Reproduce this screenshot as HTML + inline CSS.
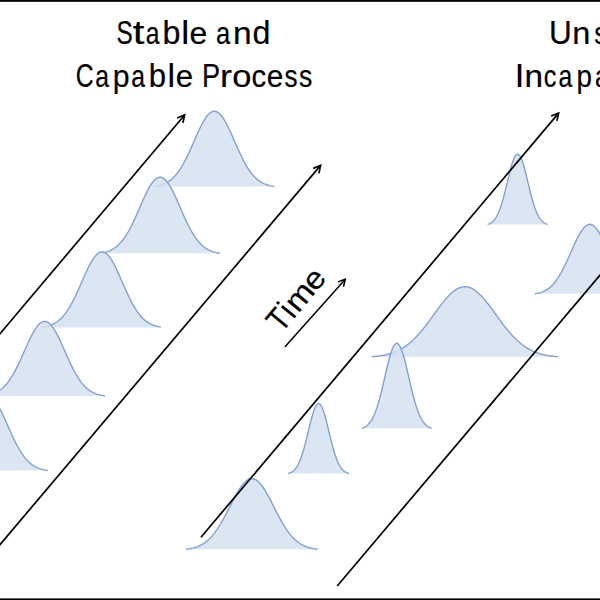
<!DOCTYPE html>
<html><head><meta charset="utf-8"><style>
html,body{margin:0;padding:0;background:#fff;width:600px;height:600px;overflow:hidden}
svg{display:block}
text{font-family:"Liberation Sans",sans-serif;font-size:33px;fill:#000;stroke:#000;stroke-width:0.2px;vector-effect:non-scaling-stroke}
</style></head><body>
<svg width="600" height="600" viewBox="0 0 600 600">
<rect x="0" y="0" width="600" height="600" fill="#fff"/>
<polygon points="154.30,186.40 155.80,186.18 157.30,185.90 158.80,185.58 160.30,185.19 161.80,184.73 163.30,184.18 164.80,183.54 166.30,182.80 167.80,181.94 169.30,180.96 170.80,179.83 172.30,178.56 173.80,177.12 175.30,175.52 176.80,173.74 178.30,171.77 179.80,169.62 181.30,167.28 182.80,164.76 184.30,162.06 185.80,159.19 187.30,156.17 188.80,153.01 190.30,149.74 191.80,146.39 193.30,142.98 194.80,139.55 196.30,136.14 197.80,132.79 199.30,129.54 200.80,126.44 202.30,123.51 203.80,120.82 205.30,118.39 206.80,116.27 208.30,114.49 209.80,113.07 211.30,112.03 212.80,111.41 214.30,111.20 215.80,111.41 217.30,112.03 218.80,113.07 220.30,114.49 221.80,116.27 223.30,118.39 224.80,120.82 226.30,123.51 227.80,126.44 229.30,129.54 230.80,132.79 232.30,136.14 233.80,139.55 235.30,142.98 236.80,146.39 238.30,149.74 239.80,153.01 241.30,156.17 242.80,159.19 244.30,162.06 245.80,164.76 247.30,167.28 248.80,169.62 250.30,171.77 251.80,173.74 253.30,175.52 254.80,177.12 256.30,178.56 257.80,179.83 259.30,180.96 260.80,181.94 262.30,182.80 263.80,183.54 265.30,184.18 266.80,184.73 268.30,185.19 269.80,185.58 271.30,185.90 272.80,186.18 274.30,186.40 274.30,186.40 154.30,186.40" fill="#D6E0F0" fill-opacity="0.85"/><polyline points="154.30,186.40 155.80,186.18 157.30,185.90 158.80,185.58 160.30,185.19 161.80,184.73 163.30,184.18 164.80,183.54 166.30,182.80 167.80,181.94 169.30,180.96 170.80,179.83 172.30,178.56 173.80,177.12 175.30,175.52 176.80,173.74 178.30,171.77 179.80,169.62 181.30,167.28 182.80,164.76 184.30,162.06 185.80,159.19 187.30,156.17 188.80,153.01 190.30,149.74 191.80,146.39 193.30,142.98 194.80,139.55 196.30,136.14 197.80,132.79 199.30,129.54 200.80,126.44 202.30,123.51 203.80,120.82 205.30,118.39 206.80,116.27 208.30,114.49 209.80,113.07 211.30,112.03 212.80,111.41 214.30,111.20 215.80,111.41 217.30,112.03 218.80,113.07 220.30,114.49 221.80,116.27 223.30,118.39 224.80,120.82 226.30,123.51 227.80,126.44 229.30,129.54 230.80,132.79 232.30,136.14 233.80,139.55 235.30,142.98 236.80,146.39 238.30,149.74 239.80,153.01 241.30,156.17 242.80,159.19 244.30,162.06 245.80,164.76 247.30,167.28 248.80,169.62 250.30,171.77 251.80,173.74 253.30,175.52 254.80,177.12 256.30,178.56 257.80,179.83 259.30,180.96 260.80,181.94 262.30,182.80 263.80,183.54 265.30,184.18 266.80,184.73 268.30,185.19 269.80,185.58 271.30,185.90 272.80,186.18 274.30,186.40" fill="none" stroke="#84A1D3" stroke-width="1.4"/><polygon points="102.00,252.89 103.47,252.60 104.95,252.26 106.42,251.85 107.90,251.37 109.38,250.81 110.85,250.15 112.33,249.39 113.80,248.51 115.28,247.50 116.75,246.36 118.22,245.07 119.70,243.62 121.17,242.00 122.65,240.21 124.12,238.24 125.60,236.09 127.08,233.75 128.55,231.24 130.03,228.55 131.50,225.70 132.97,222.70 134.45,219.56 135.93,216.32 137.40,212.99 138.88,209.61 140.35,206.20 141.82,202.81 143.30,199.47 144.78,196.22 146.25,193.11 147.72,190.17 149.20,187.45 150.68,184.98 152.15,182.80 153.62,180.94 155.10,179.43 156.57,178.30 158.05,177.56 159.53,177.22 161.00,177.29 162.47,177.78 163.95,178.66 165.43,179.93 166.90,181.56 168.38,183.54 169.85,185.82 171.32,188.39 172.80,191.19 174.28,194.20 175.75,197.37 177.22,200.65 178.70,204.01 180.18,207.41 181.65,210.82 183.12,214.18 184.60,217.48 186.07,220.69 187.55,223.78 189.03,226.73 190.50,229.53 191.97,232.15 193.45,234.61 194.93,236.88 196.40,238.96 197.88,240.87 199.35,242.60 200.82,244.15 202.30,245.55 203.78,246.78 205.25,247.88 206.72,248.83 208.20,249.67 209.68,250.39 211.15,251.02 212.62,251.55 214.10,252.00 215.57,252.39 217.05,252.71 218.53,252.98 220.00,253.20 220.00,253.20 102.00,253.20" fill="#D6E0F0" fill-opacity="0.85"/><polyline points="102.00,252.89 103.47,252.60 104.95,252.26 106.42,251.85 107.90,251.37 109.38,250.81 110.85,250.15 112.33,249.39 113.80,248.51 115.28,247.50 116.75,246.36 118.22,245.07 119.70,243.62 121.17,242.00 122.65,240.21 124.12,238.24 125.60,236.09 127.08,233.75 128.55,231.24 130.03,228.55 131.50,225.70 132.97,222.70 134.45,219.56 135.93,216.32 137.40,212.99 138.88,209.61 140.35,206.20 141.82,202.81 143.30,199.47 144.78,196.22 146.25,193.11 147.72,190.17 149.20,187.45 150.68,184.98 152.15,182.80 153.62,180.94 155.10,179.43 156.57,178.30 158.05,177.56 159.53,177.22 161.00,177.29 162.47,177.78 163.95,178.66 165.43,179.93 166.90,181.56 168.38,183.54 169.85,185.82 171.32,188.39 172.80,191.19 174.28,194.20 175.75,197.37 177.22,200.65 178.70,204.01 180.18,207.41 181.65,210.82 183.12,214.18 184.60,217.48 186.07,220.69 187.55,223.78 189.03,226.73 190.50,229.53 191.97,232.15 193.45,234.61 194.93,236.88 196.40,238.96 197.88,240.87 199.35,242.60 200.82,244.15 202.30,245.55 203.78,246.78 205.25,247.88 206.72,248.83 208.20,249.67 209.68,250.39 211.15,251.02 212.62,251.55 214.10,252.00 215.57,252.39 217.05,252.71 218.53,252.98 220.00,253.20" fill="none" stroke="#84A1D3" stroke-width="1.4"/><polygon points="41.00,327.40 42.50,327.20 44.00,326.96 45.50,326.67 47.00,326.32 48.50,325.91 50.00,325.42 51.50,324.85 53.00,324.17 54.50,323.39 56.00,322.49 57.50,321.46 59.00,320.28 60.50,318.95 62.00,317.46 63.50,315.79 65.00,313.94 66.50,311.91 68.00,309.69 69.50,307.29 71.00,304.70 72.50,301.93 74.00,299.00 75.50,295.93 77.00,292.72 78.50,289.42 80.00,286.03 81.50,282.61 83.00,279.18 84.50,275.77 86.00,272.44 87.50,269.23 89.00,266.17 90.50,263.31 92.00,260.70 93.50,258.36 95.00,256.35 96.50,254.68 98.00,253.38 99.50,252.48 101.00,251.99 102.50,251.92 104.00,252.27 105.50,253.04 107.00,254.20 108.50,255.75 110.00,257.66 111.50,259.89 113.00,262.41 114.50,265.20 116.00,268.19 117.50,271.36 119.00,274.65 120.50,278.04 122.00,281.46 123.50,284.90 125.00,288.30 126.50,291.63 128.00,294.87 129.50,297.99 131.00,300.97 132.50,303.79 134.00,306.44 135.50,308.91 137.00,311.19 138.50,313.29 140.00,315.20 141.50,316.92 143.00,318.47 144.50,319.86 146.00,321.08 147.50,322.16 149.00,323.11 150.50,323.93 152.00,324.63 153.50,325.24 155.00,325.76 156.50,326.19 158.00,326.56 159.50,326.87 161.00,327.13 161.00,327.40 41.00,327.40" fill="#D6E0F0" fill-opacity="0.85"/><polyline points="41.00,327.40 42.50,327.20 44.00,326.96 45.50,326.67 47.00,326.32 48.50,325.91 50.00,325.42 51.50,324.85 53.00,324.17 54.50,323.39 56.00,322.49 57.50,321.46 59.00,320.28 60.50,318.95 62.00,317.46 63.50,315.79 65.00,313.94 66.50,311.91 68.00,309.69 69.50,307.29 71.00,304.70 72.50,301.93 74.00,299.00 75.50,295.93 77.00,292.72 78.50,289.42 80.00,286.03 81.50,282.61 83.00,279.18 84.50,275.77 86.00,272.44 87.50,269.23 89.00,266.17 90.50,263.31 92.00,260.70 93.50,258.36 95.00,256.35 96.50,254.68 98.00,253.38 99.50,252.48 101.00,251.99 102.50,251.92 104.00,252.27 105.50,253.04 107.00,254.20 108.50,255.75 110.00,257.66 111.50,259.89 113.00,262.41 114.50,265.20 116.00,268.19 117.50,271.36 119.00,274.65 120.50,278.04 122.00,281.46 123.50,284.90 125.00,288.30 126.50,291.63 128.00,294.87 129.50,297.99 131.00,300.97 132.50,303.79 134.00,306.44 135.50,308.91 137.00,311.19 138.50,313.29 140.00,315.20 141.50,316.92 143.00,318.47 144.50,319.86 146.00,321.08 147.50,322.16 149.00,323.11 150.50,323.93 152.00,324.63 153.50,325.24 155.00,325.76 156.50,326.19 158.00,326.56 159.50,326.87 161.00,327.13" fill="none" stroke="#84A1D3" stroke-width="1.4"/><polygon points="-16.40,396.00 -14.88,395.80 -13.36,395.56 -11.84,395.27 -10.32,394.92 -8.81,394.50 -7.29,394.01 -5.77,393.42 -4.25,392.74 -2.73,391.95 -1.21,391.03 0.31,389.98 1.83,388.78 3.34,387.42 4.86,385.90 6.38,384.20 7.90,382.32 9.42,380.25 10.94,377.98 12.46,375.53 13.98,372.90 15.49,370.09 17.01,367.12 18.53,364.01 20.05,360.77 21.57,357.43 23.09,354.03 24.61,350.60 26.12,347.17 27.64,343.79 29.16,340.49 30.68,337.33 32.20,334.35 33.72,331.58 35.24,329.08 36.76,326.87 38.27,325.01 39.79,323.50 41.31,322.39 42.83,321.69 44.35,321.41 45.87,321.55 47.39,322.11 48.91,323.09 50.43,324.47 51.94,326.22 53.46,328.32 54.98,330.73 56.50,333.41 58.02,336.33 59.54,339.43 61.06,342.69 62.57,346.05 64.09,349.47 65.61,352.90 67.13,356.32 68.65,359.68 70.17,362.95 71.69,366.11 73.21,369.13 74.72,371.99 76.24,374.69 77.76,377.20 79.28,379.52 80.80,381.66 82.32,383.60 83.84,385.36 85.36,386.94 86.88,388.35 88.39,389.60 89.91,390.70 91.43,391.66 92.95,392.49 94.47,393.21 95.99,393.82 97.51,394.35 99.03,394.79 100.54,395.16 102.06,395.47 103.58,395.73 105.10,395.94 105.10,396.00 -16.40,396.00" fill="#D6E0F0" fill-opacity="0.85"/><polyline points="-16.40,396.00 -14.88,395.80 -13.36,395.56 -11.84,395.27 -10.32,394.92 -8.81,394.50 -7.29,394.01 -5.77,393.42 -4.25,392.74 -2.73,391.95 -1.21,391.03 0.31,389.98 1.83,388.78 3.34,387.42 4.86,385.90 6.38,384.20 7.90,382.32 9.42,380.25 10.94,377.98 12.46,375.53 13.98,372.90 15.49,370.09 17.01,367.12 18.53,364.01 20.05,360.77 21.57,357.43 23.09,354.03 24.61,350.60 26.12,347.17 27.64,343.79 29.16,340.49 30.68,337.33 32.20,334.35 33.72,331.58 35.24,329.08 36.76,326.87 38.27,325.01 39.79,323.50 41.31,322.39 42.83,321.69 44.35,321.41 45.87,321.55 47.39,322.11 48.91,323.09 50.43,324.47 51.94,326.22 53.46,328.32 54.98,330.73 56.50,333.41 58.02,336.33 59.54,339.43 61.06,342.69 62.57,346.05 64.09,349.47 65.61,352.90 67.13,356.32 68.65,359.68 70.17,362.95 71.69,366.11 73.21,369.13 74.72,371.99 76.24,374.69 77.76,377.20 79.28,379.52 80.80,381.66 82.32,383.60 83.84,385.36 85.36,386.94 86.88,388.35 88.39,389.60 89.91,390.70 91.43,391.66 92.95,392.49 94.47,393.21 95.99,393.82 97.51,394.35 99.03,394.79 100.54,395.16 102.06,395.47 103.58,395.73 105.10,395.94" fill="none" stroke="#84A1D3" stroke-width="1.4"/><polygon points="-73.50,470.50 -71.98,470.30 -70.46,470.06 -68.94,469.77 -67.42,469.42 -65.91,469.00 -64.39,468.51 -62.87,467.92 -61.35,467.24 -59.83,466.45 -58.31,465.53 -56.79,464.48 -55.27,463.28 -53.76,461.92 -52.24,460.40 -50.72,458.70 -49.20,456.82 -47.68,454.75 -46.16,452.48 -44.64,450.03 -43.12,447.40 -41.61,444.59 -40.09,441.62 -38.57,438.51 -37.05,435.27 -35.53,431.93 -34.01,428.53 -32.49,425.10 -30.98,421.67 -29.46,418.29 -27.94,414.99 -26.42,411.83 -24.90,408.85 -23.38,406.08 -21.86,403.58 -20.34,401.37 -18.83,399.51 -17.31,398.00 -15.79,396.89 -14.27,396.19 -12.75,395.91 -11.23,396.05 -9.71,396.61 -8.19,397.59 -6.67,398.97 -5.16,400.72 -3.64,402.82 -2.12,405.23 -0.60,407.91 0.92,410.83 2.44,413.93 3.96,417.19 5.47,420.55 6.99,423.97 8.51,427.40 10.03,430.82 11.55,434.18 13.07,437.45 14.59,440.61 16.11,443.63 17.62,446.49 19.14,449.19 20.66,451.70 22.18,454.02 23.70,456.16 25.22,458.10 26.74,459.86 28.26,461.44 29.78,462.85 31.29,464.10 32.81,465.20 34.33,466.16 35.85,466.99 37.37,467.71 38.89,468.32 40.41,468.85 41.92,469.29 43.44,469.66 44.96,469.97 46.48,470.23 48.00,470.44 48.00,470.50 -73.50,470.50" fill="#D6E0F0" fill-opacity="0.85"/><polyline points="-73.50,470.50 -71.98,470.30 -70.46,470.06 -68.94,469.77 -67.42,469.42 -65.91,469.00 -64.39,468.51 -62.87,467.92 -61.35,467.24 -59.83,466.45 -58.31,465.53 -56.79,464.48 -55.27,463.28 -53.76,461.92 -52.24,460.40 -50.72,458.70 -49.20,456.82 -47.68,454.75 -46.16,452.48 -44.64,450.03 -43.12,447.40 -41.61,444.59 -40.09,441.62 -38.57,438.51 -37.05,435.27 -35.53,431.93 -34.01,428.53 -32.49,425.10 -30.98,421.67 -29.46,418.29 -27.94,414.99 -26.42,411.83 -24.90,408.85 -23.38,406.08 -21.86,403.58 -20.34,401.37 -18.83,399.51 -17.31,398.00 -15.79,396.89 -14.27,396.19 -12.75,395.91 -11.23,396.05 -9.71,396.61 -8.19,397.59 -6.67,398.97 -5.16,400.72 -3.64,402.82 -2.12,405.23 -0.60,407.91 0.92,410.83 2.44,413.93 3.96,417.19 5.47,420.55 6.99,423.97 8.51,427.40 10.03,430.82 11.55,434.18 13.07,437.45 14.59,440.61 16.11,443.63 17.62,446.49 19.14,449.19 20.66,451.70 22.18,454.02 23.70,456.16 25.22,458.10 26.74,459.86 28.26,461.44 29.78,462.85 31.29,464.10 32.81,465.20 34.33,466.16 35.85,466.99 37.37,467.71 38.89,468.32 40.41,468.85 41.92,469.29 43.44,469.66 44.96,469.97 46.48,470.23 48.00,470.44" fill="none" stroke="#84A1D3" stroke-width="1.4"/><polygon points="487.60,224.40 488.35,224.16 489.10,223.88 489.85,223.53 490.60,223.13 491.35,222.66 492.10,222.10 492.85,221.45 493.60,220.71 494.35,219.85 495.10,218.87 495.85,217.76 496.60,216.51 497.35,215.11 498.10,213.56 498.85,211.84 499.60,209.96 500.35,207.90 501.10,205.68 501.85,203.30 502.60,200.76 503.35,198.07 504.10,195.25 504.85,192.32 505.60,189.29 506.35,186.20 507.10,183.06 507.85,179.92 508.60,176.80 509.35,173.75 510.10,170.79 510.85,167.96 511.60,165.31 512.35,162.88 513.10,160.68 513.85,158.77 514.60,157.16 515.35,155.88 516.10,154.95 516.85,154.39 517.60,154.20 518.35,154.39 519.10,154.95 519.85,155.88 520.60,157.16 521.35,158.77 522.10,160.68 522.85,162.88 523.60,165.31 524.35,167.96 525.10,170.79 525.85,173.75 526.60,176.80 527.35,179.92 528.10,183.06 528.85,186.20 529.60,189.29 530.35,192.32 531.10,195.25 531.85,198.07 532.60,200.76 533.35,203.30 534.10,205.68 534.85,207.90 535.60,209.96 536.35,211.84 537.10,213.56 537.85,215.11 538.60,216.51 539.35,217.76 540.10,218.87 540.85,219.85 541.60,220.71 542.35,221.45 543.10,222.10 543.85,222.66 544.60,223.13 545.35,223.53 546.10,223.88 546.85,224.16 547.60,224.40 547.60,224.40 487.60,224.40" fill="#D6E0F0" fill-opacity="0.85"/><polyline points="487.60,224.40 488.35,224.16 489.10,223.88 489.85,223.53 490.60,223.13 491.35,222.66 492.10,222.10 492.85,221.45 493.60,220.71 494.35,219.85 495.10,218.87 495.85,217.76 496.60,216.51 497.35,215.11 498.10,213.56 498.85,211.84 499.60,209.96 500.35,207.90 501.10,205.68 501.85,203.30 502.60,200.76 503.35,198.07 504.10,195.25 504.85,192.32 505.60,189.29 506.35,186.20 507.10,183.06 507.85,179.92 508.60,176.80 509.35,173.75 510.10,170.79 510.85,167.96 511.60,165.31 512.35,162.88 513.10,160.68 513.85,158.77 514.60,157.16 515.35,155.88 516.10,154.95 516.85,154.39 517.60,154.20 518.35,154.39 519.10,154.95 519.85,155.88 520.60,157.16 521.35,158.77 522.10,160.68 522.85,162.88 523.60,165.31 524.35,167.96 525.10,170.79 525.85,173.75 526.60,176.80 527.35,179.92 528.10,183.06 528.85,186.20 529.60,189.29 530.35,192.32 531.10,195.25 531.85,198.07 532.60,200.76 533.35,203.30 534.10,205.68 534.85,207.90 535.60,209.96 536.35,211.84 537.10,213.56 537.85,215.11 538.60,216.51 539.35,217.76 540.10,218.87 540.85,219.85 541.60,220.71 542.35,221.45 543.10,222.10 543.85,222.66 544.60,223.13 545.35,223.53 546.10,223.88 546.85,224.16 547.60,224.40" fill="none" stroke="#84A1D3" stroke-width="1.4"/><polygon points="534.80,293.80 536.17,293.57 537.55,293.29 538.92,292.97 540.30,292.58 541.67,292.11 543.05,291.58 544.42,290.95 545.80,290.22 547.17,289.38 548.55,288.43 549.92,287.34 551.30,286.12 552.67,284.75 554.05,283.22 555.42,281.53 556.80,279.68 558.17,277.65 559.55,275.46 560.92,273.11 562.30,270.60 563.67,267.94 565.05,265.15 566.42,262.24 567.80,259.24 569.17,256.17 570.55,253.05 571.92,249.93 573.30,246.83 574.67,243.79 576.05,240.84 577.42,238.03 578.80,235.39 580.17,232.96 581.55,230.77 582.92,228.86 584.30,227.25 585.67,225.98 587.05,225.05 588.42,224.49 589.80,224.30 591.17,224.49 592.55,225.05 593.92,225.98 595.30,227.25 596.67,228.86 598.05,230.77 599.42,232.96 600.80,235.39 602.17,238.03 603.55,240.84 604.92,243.79 606.30,246.83 607.67,249.93 609.05,253.05 610.42,256.17 611.80,259.24 613.17,262.24 614.55,265.15 615.92,267.94 617.30,270.60 618.67,273.11 620.05,275.46 621.42,277.65 622.80,279.68 624.17,281.53 625.55,283.22 626.92,284.75 628.30,286.12 629.67,287.34 631.05,288.43 632.42,289.38 633.80,290.22 635.17,290.95 636.55,291.58 637.92,292.11 639.30,292.58 640.67,292.97 642.05,293.29 643.42,293.57 644.80,293.80 644.80,293.80 534.80,293.80" fill="#D6E0F0" fill-opacity="0.85"/><polyline points="534.80,293.80 536.17,293.57 537.55,293.29 538.92,292.97 540.30,292.58 541.67,292.11 543.05,291.58 544.42,290.95 545.80,290.22 547.17,289.38 548.55,288.43 549.92,287.34 551.30,286.12 552.67,284.75 554.05,283.22 555.42,281.53 556.80,279.68 558.17,277.65 559.55,275.46 560.92,273.11 562.30,270.60 563.67,267.94 565.05,265.15 566.42,262.24 567.80,259.24 569.17,256.17 570.55,253.05 571.92,249.93 573.30,246.83 574.67,243.79 576.05,240.84 577.42,238.03 578.80,235.39 580.17,232.96 581.55,230.77 582.92,228.86 584.30,227.25 585.67,225.98 587.05,225.05 588.42,224.49 589.80,224.30 591.17,224.49 592.55,225.05 593.92,225.98 595.30,227.25 596.67,228.86 598.05,230.77 599.42,232.96 600.80,235.39 602.17,238.03 603.55,240.84 604.92,243.79 606.30,246.83 607.67,249.93 609.05,253.05 610.42,256.17 611.80,259.24 613.17,262.24 614.55,265.15 615.92,267.94 617.30,270.60 618.67,273.11 620.05,275.46 621.42,277.65 622.80,279.68 624.17,281.53 625.55,283.22 626.92,284.75 628.30,286.12 629.67,287.34 631.05,288.43 632.42,289.38 633.80,290.22 635.17,290.95 636.55,291.58 637.92,292.11 639.30,292.58 640.67,292.97 642.05,293.29 643.42,293.57 644.80,293.80" fill="none" stroke="#84A1D3" stroke-width="1.4"/><polygon points="371.90,356.70 374.22,356.50 376.55,356.27 378.88,355.98 381.20,355.64 383.52,355.23 385.85,354.75 388.17,354.18 390.50,353.51 392.82,352.74 395.15,351.85 397.47,350.84 399.80,349.68 402.12,348.38 404.45,346.91 406.77,345.28 409.10,343.48 411.42,341.50 413.75,339.34 416.07,337.01 418.40,334.51 420.72,331.84 423.05,329.03 425.38,326.08 427.70,323.03 430.02,319.89 432.35,316.70 434.67,313.48 437.00,310.27 439.32,307.12 441.65,304.05 443.97,301.12 446.30,298.36 448.62,295.81 450.95,293.52 453.27,291.51 455.60,289.81 457.92,288.47 460.25,287.49 462.57,286.90 464.90,286.70 467.22,286.90 469.55,287.49 471.88,288.47 474.20,289.81 476.52,291.51 478.85,293.52 481.17,295.81 483.50,298.36 485.82,301.12 488.15,304.05 490.47,307.12 492.80,310.27 495.12,313.48 497.45,316.70 499.77,319.89 502.10,323.03 504.42,326.08 506.75,329.03 509.07,331.84 511.40,334.51 513.72,337.01 516.05,339.34 518.38,341.50 520.70,343.48 523.02,345.28 525.35,346.91 527.67,348.38 530.00,349.68 532.33,350.84 534.65,351.85 536.97,352.74 539.30,353.51 541.62,354.18 543.95,354.75 546.27,355.23 548.60,355.64 550.92,355.98 553.25,356.27 555.58,356.50 557.90,356.70 557.90,356.70 371.90,356.70" fill="#D6E0F0" fill-opacity="0.85"/><polyline points="371.90,356.70 374.22,356.50 376.55,356.27 378.88,355.98 381.20,355.64 383.52,355.23 385.85,354.75 388.17,354.18 390.50,353.51 392.82,352.74 395.15,351.85 397.47,350.84 399.80,349.68 402.12,348.38 404.45,346.91 406.77,345.28 409.10,343.48 411.42,341.50 413.75,339.34 416.07,337.01 418.40,334.51 420.72,331.84 423.05,329.03 425.38,326.08 427.70,323.03 430.02,319.89 432.35,316.70 434.67,313.48 437.00,310.27 439.32,307.12 441.65,304.05 443.97,301.12 446.30,298.36 448.62,295.81 450.95,293.52 453.27,291.51 455.60,289.81 457.92,288.47 460.25,287.49 462.57,286.90 464.90,286.70 467.22,286.90 469.55,287.49 471.88,288.47 474.20,289.81 476.52,291.51 478.85,293.52 481.17,295.81 483.50,298.36 485.82,301.12 488.15,304.05 490.47,307.12 492.80,310.27 495.12,313.48 497.45,316.70 499.77,319.89 502.10,323.03 504.42,326.08 506.75,329.03 509.07,331.84 511.40,334.51 513.72,337.01 516.05,339.34 518.38,341.50 520.70,343.48 523.02,345.28 525.35,346.91 527.67,348.38 530.00,349.68 532.33,350.84 534.65,351.85 536.97,352.74 539.30,353.51 541.62,354.18 543.95,354.75 546.27,355.23 548.60,355.64 550.92,355.98 553.25,356.27 555.58,356.50 557.90,356.70" fill="none" stroke="#84A1D3" stroke-width="1.4"/><polygon points="361.80,428.30 362.68,428.01 363.55,427.67 364.43,427.26 365.30,426.78 366.18,426.20 367.05,425.54 367.93,424.76 368.80,423.86 369.68,422.82 370.55,421.65 371.43,420.31 372.30,418.80 373.18,417.11 374.05,415.23 374.93,413.16 375.80,410.88 376.68,408.40 377.55,405.71 378.43,402.83 379.30,399.75 380.18,396.50 381.05,393.09 381.93,389.53 382.80,385.87 383.68,382.12 384.55,378.32 385.43,374.51 386.30,370.72 387.18,367.02 388.05,363.43 388.93,360.00 389.80,356.79 390.68,353.83 391.55,351.17 392.43,348.84 393.30,346.89 394.18,345.34 395.05,344.21 395.93,343.53 396.80,343.30 397.68,343.53 398.55,344.21 399.43,345.34 400.30,346.89 401.18,348.84 402.05,351.17 402.93,353.83 403.80,356.79 404.68,360.00 405.55,363.43 406.43,367.02 407.30,370.72 408.18,374.51 409.05,378.32 409.93,382.12 410.80,385.87 411.68,389.53 412.55,393.09 413.43,396.50 414.30,399.75 415.18,402.83 416.05,405.71 416.93,408.40 417.80,410.88 418.68,413.16 419.55,415.23 420.43,417.11 421.30,418.80 422.18,420.31 423.05,421.65 423.93,422.82 424.80,423.86 425.68,424.76 426.55,425.54 427.43,426.20 428.30,426.78 429.18,427.26 430.05,427.67 430.93,428.01 431.80,428.30 431.80,428.30 361.80,428.30" fill="#D6E0F0" fill-opacity="0.85"/><polyline points="361.80,428.30 362.68,428.01 363.55,427.67 364.43,427.26 365.30,426.78 366.18,426.20 367.05,425.54 367.93,424.76 368.80,423.86 369.68,422.82 370.55,421.65 371.43,420.31 372.30,418.80 373.18,417.11 374.05,415.23 374.93,413.16 375.80,410.88 376.68,408.40 377.55,405.71 378.43,402.83 379.30,399.75 380.18,396.50 381.05,393.09 381.93,389.53 382.80,385.87 383.68,382.12 384.55,378.32 385.43,374.51 386.30,370.72 387.18,367.02 388.05,363.43 388.93,360.00 389.80,356.79 390.68,353.83 391.55,351.17 392.43,348.84 393.30,346.89 394.18,345.34 395.05,344.21 395.93,343.53 396.80,343.30 397.68,343.53 398.55,344.21 399.43,345.34 400.30,346.89 401.18,348.84 402.05,351.17 402.93,353.83 403.80,356.79 404.68,360.00 405.55,363.43 406.43,367.02 407.30,370.72 408.18,374.51 409.05,378.32 409.93,382.12 410.80,385.87 411.68,389.53 412.55,393.09 413.43,396.50 414.30,399.75 415.18,402.83 416.05,405.71 416.93,408.40 417.80,410.88 418.68,413.16 419.55,415.23 420.43,417.11 421.30,418.80 422.18,420.31 423.05,421.65 423.93,422.82 424.80,423.86 425.68,424.76 426.55,425.54 427.43,426.20 428.30,426.78 429.18,427.26 430.05,427.67 430.93,428.01 431.80,428.30" fill="none" stroke="#84A1D3" stroke-width="1.4"/><polygon points="288.20,473.50 288.96,473.28 289.72,473.02 290.48,472.70 291.24,472.33 292.00,471.88 292.76,471.36 293.52,470.75 294.28,470.04 295.04,469.23 295.80,468.29 296.56,467.22 297.32,466.02 298.08,464.66 298.84,463.15 299.60,461.47 300.36,459.63 301.12,457.61 301.88,455.42 302.64,453.06 303.40,450.54 304.16,447.87 304.92,445.06 305.68,442.12 306.44,439.09 307.20,435.98 307.96,432.82 308.72,429.65 309.48,426.50 310.24,423.40 311.00,420.40 311.76,417.53 312.52,414.84 313.28,412.35 314.04,410.12 314.80,408.17 315.56,406.52 316.32,405.22 317.08,404.27 317.84,403.69 318.60,403.50 319.36,403.69 320.12,404.27 320.88,405.22 321.64,406.52 322.40,408.17 323.16,410.12 323.92,412.35 324.68,414.84 325.44,417.53 326.20,420.40 326.96,423.40 327.72,426.50 328.48,429.65 329.24,432.82 330.00,435.98 330.76,439.09 331.52,442.12 332.28,445.06 333.04,447.87 333.80,450.54 334.56,453.06 335.32,455.42 336.08,457.61 336.84,459.63 337.60,461.47 338.36,463.15 339.12,464.66 339.88,466.02 340.64,467.22 341.40,468.29 342.16,469.23 342.92,470.04 343.68,470.75 344.44,471.36 345.20,471.88 345.96,472.33 346.72,472.70 347.48,473.02 348.24,473.28 349.00,473.50 349.00,473.50 288.20,473.50" fill="#D6E0F0" fill-opacity="0.85"/><polyline points="288.20,473.50 288.96,473.28 289.72,473.02 290.48,472.70 291.24,472.33 292.00,471.88 292.76,471.36 293.52,470.75 294.28,470.04 295.04,469.23 295.80,468.29 296.56,467.22 297.32,466.02 298.08,464.66 298.84,463.15 299.60,461.47 300.36,459.63 301.12,457.61 301.88,455.42 302.64,453.06 303.40,450.54 304.16,447.87 304.92,445.06 305.68,442.12 306.44,439.09 307.20,435.98 307.96,432.82 308.72,429.65 309.48,426.50 310.24,423.40 311.00,420.40 311.76,417.53 312.52,414.84 313.28,412.35 314.04,410.12 314.80,408.17 315.56,406.52 316.32,405.22 317.08,404.27 317.84,403.69 318.60,403.50 319.36,403.69 320.12,404.27 320.88,405.22 321.64,406.52 322.40,408.17 323.16,410.12 323.92,412.35 324.68,414.84 325.44,417.53 326.20,420.40 326.96,423.40 327.72,426.50 328.48,429.65 329.24,432.82 330.00,435.98 330.76,439.09 331.52,442.12 332.28,445.06 333.04,447.87 333.80,450.54 334.56,453.06 335.32,455.42 336.08,457.61 336.84,459.63 337.60,461.47 338.36,463.15 339.12,464.66 339.88,466.02 340.64,467.22 341.40,468.29 342.16,469.23 342.92,470.04 343.68,470.75 344.44,471.36 345.20,471.88 345.96,472.33 346.72,472.70 347.48,473.02 348.24,473.28 349.00,473.50" fill="none" stroke="#84A1D3" stroke-width="1.4"/><polygon points="185.80,549.20 187.45,549.00 189.10,548.76 190.75,548.47 192.40,548.13 194.05,547.72 195.70,547.23 197.35,546.66 199.00,545.99 200.65,545.21 202.30,544.31 203.95,543.29 205.60,542.12 207.25,540.81 208.90,539.33 210.55,537.68 212.20,535.86 213.85,533.87 215.50,531.69 217.15,529.34 218.80,526.82 220.45,524.13 222.10,521.29 223.75,518.32 225.40,515.24 227.05,512.08 228.70,508.85 230.35,505.61 232.00,502.38 233.65,499.19 235.30,496.10 236.95,493.14 238.60,490.36 240.25,487.79 241.90,485.47 243.55,483.45 245.20,481.74 246.85,480.38 248.50,479.40 250.15,478.80 251.80,478.60 253.45,478.80 255.10,479.40 256.75,480.38 258.40,481.74 260.05,483.45 261.70,485.47 263.35,487.79 265.00,490.36 266.65,493.14 268.30,496.10 269.95,499.19 271.60,502.38 273.25,505.61 274.90,508.85 276.55,512.08 278.20,515.24 279.85,518.32 281.50,521.29 283.15,524.13 284.80,526.82 286.45,529.34 288.10,531.69 289.75,533.87 291.40,535.86 293.05,537.68 294.70,539.33 296.35,540.81 298.00,542.12 299.65,543.29 301.30,544.31 302.95,545.21 304.60,545.99 306.25,546.66 307.90,547.23 309.55,547.72 311.20,548.13 312.85,548.47 314.50,548.76 316.15,549.00 317.80,549.20 317.80,549.20 185.80,549.20" fill="#D6E0F0" fill-opacity="0.85"/><polyline points="185.80,549.20 187.45,549.00 189.10,548.76 190.75,548.47 192.40,548.13 194.05,547.72 195.70,547.23 197.35,546.66 199.00,545.99 200.65,545.21 202.30,544.31 203.95,543.29 205.60,542.12 207.25,540.81 208.90,539.33 210.55,537.68 212.20,535.86 213.85,533.87 215.50,531.69 217.15,529.34 218.80,526.82 220.45,524.13 222.10,521.29 223.75,518.32 225.40,515.24 227.05,512.08 228.70,508.85 230.35,505.61 232.00,502.38 233.65,499.19 235.30,496.10 236.95,493.14 238.60,490.36 240.25,487.79 241.90,485.47 243.55,483.45 245.20,481.74 246.85,480.38 248.50,479.40 250.15,478.80 251.80,478.60 253.45,478.80 255.10,479.40 256.75,480.38 258.40,481.74 260.05,483.45 261.70,485.47 263.35,487.79 265.00,490.36 266.65,493.14 268.30,496.10 269.95,499.19 271.60,502.38 273.25,505.61 274.90,508.85 276.55,512.08 278.20,515.24 279.85,518.32 281.50,521.29 283.15,524.13 284.80,526.82 286.45,529.34 288.10,531.69 289.75,533.87 291.40,535.86 293.05,537.68 294.70,539.33 296.35,540.81 298.00,542.12 299.65,543.29 301.30,544.31 302.95,545.21 304.60,545.99 306.25,546.66 307.90,547.23 309.55,547.72 311.20,548.13 312.85,548.47 314.50,548.76 316.15,549.00 317.80,549.20" fill="none" stroke="#84A1D3" stroke-width="1.4"/>

<line x1="-3" y1="337.3" x2="184.6" y2="115.0" stroke="#000" stroke-width="1.7"/><polyline points="177.17,117.98 184.6,115.0 182.91,122.82" fill="none" stroke="#000" stroke-width="1.7" stroke-linejoin="miter" stroke-linecap="butt"/><line x1="-3" y1="548.2" x2="320.6" y2="165.4" stroke="#000" stroke-width="1.7"/><polyline points="313.17,168.37 320.6,165.4 318.91,173.22" fill="none" stroke="#000" stroke-width="1.7" stroke-linejoin="miter" stroke-linecap="butt"/><line x1="201.0" y1="537.2" x2="558.6" y2="113.1" stroke="#000" stroke-width="1.7"/><polyline points="551.18,116.08 558.6,113.1 556.92,120.92" fill="none" stroke="#000" stroke-width="1.7" stroke-linejoin="miter" stroke-linecap="butt"/><line x1="337.2" y1="586" x2="620" y2="251.5" stroke="#000" stroke-width="1.7"/><line x1="284.8" y1="346.9" x2="345.3" y2="279.2" stroke="#000" stroke-width="1.5"/><polyline points="337.98,281.90 345.3,279.2 343.44,286.78" fill="none" stroke="#000" stroke-width="1.5" stroke-linejoin="miter" stroke-linecap="butt"/>
<text transform="translate(116.40,43.6) scale(0.737,1.0)">S</text><text transform="translate(132.67,43.6) scale(1.270,1.0)">t</text><text transform="translate(145.85,43.6) scale(0.749,0.93)">a</text><text transform="translate(162.42,43.6) scale(0.977,1.0)">b</text><text transform="translate(181.34,43.6) scale(1.086,1.0)">l</text><text transform="translate(189.44,43.6) scale(0.969,0.93)">e</text><text transform="translate(215.92,43.6) scale(0.773,0.93)">a</text><text transform="translate(233.02,43.6) scale(1.017,0.93)">n</text><text transform="translate(252.40,43.6) scale(0.977,1.0)">d</text><text transform="translate(75.74,86.5) scale(0.751,1.0)">C</text><text transform="translate(95.25,86.5) scale(0.749,0.93)">a</text><text transform="translate(112.75,86.5) scale(0.916,0.93)">p</text><text transform="translate(131.25,86.5) scale(0.749,0.93)">a</text><text transform="translate(148.69,86.5) scale(0.943,1.0)">b</text><text transform="translate(167.40,86.5) scale(1.034,1.0)">l</text><text transform="translate(175.67,86.5) scale(0.949,0.93)">e</text><text transform="translate(202.08,86.5) scale(0.820,1.0)">P</text><text transform="translate(219.91,86.5) scale(1.091,0.93)">r</text><text transform="translate(232.25,86.5) scale(1.046,0.93)">o</text><text transform="translate(251.46,86.5) scale(0.886,0.93)">c</text><text transform="translate(266.73,86.5) scale(0.904,0.93)">e</text><text transform="translate(284.57,86.5) scale(0.792,0.93)">s</text><text transform="translate(298.96,86.5) scale(0.806,0.93)">s</text><text transform="translate(548.97,43.6) scale(0.955,1.0)">U</text><text transform="translate(572.14,43.6) scale(0.984,0.93)">n</text><text transform="translate(594.27,43.6) scale(0.792,0.93)">s</text><text transform="translate(514.63,86.5) scale(1.040,1.0)">I</text><text transform="translate(524.39,86.5) scale(1.009,0.93)">n</text><text transform="translate(543.83,86.5) scale(0.763,0.93)">c</text><text transform="translate(558.45,86.5) scale(0.749,0.93)">a</text><text transform="translate(576.51,86.5) scale(0.842,0.93)">p</text><text transform="translate(594.95,86.5) scale(0.749,0.93)">a</text>
<g transform="translate(265.75,319.5) rotate(-50.3)"><text transform="translate(-0.85,21.3) scale(0.879,1.0)">T</text><text transform="translate(17.35,21.3) scale(0.862,1.0)">i</text><text transform="translate(25.05,21.3) scale(1.025,0.93)">m</text><text transform="translate(52.59,21.3) scale(1.007,0.93)">e</text></g>
<rect x="0" y="0" width="600" height="1.8" fill="#000"/>
<rect x="0" y="598.4" width="600" height="1.6" fill="#000"/>
</svg>
</body></html>
